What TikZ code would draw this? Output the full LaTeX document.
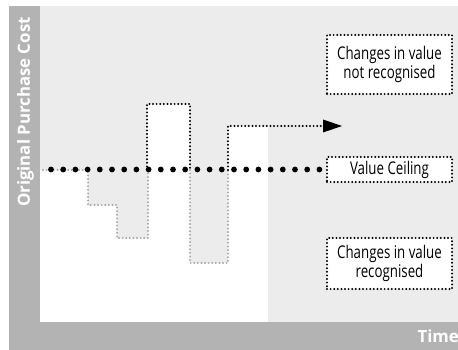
\documentclass[tikz,border=0pt]{standalone}
\usepackage{fontspec}
\setmainfont{Open Sans}
\newfontfamily\narrowfont[FakeStretch=0.76]{Open Sans}
\usetikzlibrary{arrows.meta}
\definecolor{frame}{HTML}{B3B3B3}
\definecolor{plotbg}{HTML}{ECECEC}
\definecolor{greydot}{HTML}{A8A8A8}
\tikzset{
  finedots/.style={line width=2.2pt, line cap=round, dash pattern=on 0pt off 3.6pt},
  blackdots/.style={finedots, draw=black},
  greydots/.style={finedots, draw=greydot},
  bigdots/.style={line width=5.8pt, line cap=round, dash pattern=on 0pt off 12.2pt, draw=black},
  labelbox/.style={blackdots, fill=white, minimum width=125pt, inner sep=0pt, align=center,
    font=\narrowfont\fontsize{17.5}{19}\selectfont},
  axislabel/.style={text=white, font=\bfseries\fontsize{16.8}{18}\selectfont, inner sep=0pt}
}
\begin{document}
\begin{tikzpicture}[x=1pt,y=-1pt]
\useasboundingbox (0,0) rectangle (458,350);
% frame and plot area
\fill[frame] (9,6) rectangle (458,350);
\fill[plotbg] (40,6) rectangle (458,322);
% recognised region below the ceiling, plus raised segments
\fill[white] (40,170) rectangle (268,322);
\fill[white] (147,104) rectangle (190,170);
\fill[white] (228,126) rectangle (268,170);
% drops below the ceiling
\fill[plotbg] (88,170) -- (88,205) -- (117,205) -- (117,238) -- (148,238) -- (148,170) -- cycle;
\fill[plotbg] (190,170) rectangle (228,263);
\draw[greydots] (43,170) -- (88,170) -- (88,205) -- (117,205) -- (117,238) -- (148,238) -- (148,170);
\draw[greydots] (190,170) -- (190,263) -- (228,263) -- (228,170);
% rise above the ceiling
\draw[blackdots] (147,170) -- (147,104) -- (190,104) -- (190,170);
% labels
\node[labelbox, minimum height=59pt] (notrec) at (389.5,64.5) {Changes in value\\not recognised};
\node[labelbox, minimum height=25pt] (ceil) at (389.5,169.5) {Value Ceiling};
\node[labelbox, minimum height=51pt] (rec) at (389.5,263.5) {Changes in value\\recognised};
% continuing trend above the ceiling
\coordinate (riseA) at (228,170);
\coordinate (riseB) at (228,126);
\coordinate (trend) at (342,126);
\draw[blackdots] (riseA) -- (riseB) -- ([xshift=-19pt]trend);
\fill (trend) -- ++(-19,-6.5) -- ++(0,13) -- cycle;
% ceiling line
\coordinate (ceilstart) at (51,169.5);
\draw[bigdots] (ceilstart) -- ([xshift=-4pt]ceil.west);
% axis titles
\node[axislabel, rotate=90, anchor=west] (ylab) at (25.5,207) {Original Purchase Cost};
\node[axislabel, anchor=base east] (xlab) at (459,342) {Time};
\end{tikzpicture}
\end{document}
